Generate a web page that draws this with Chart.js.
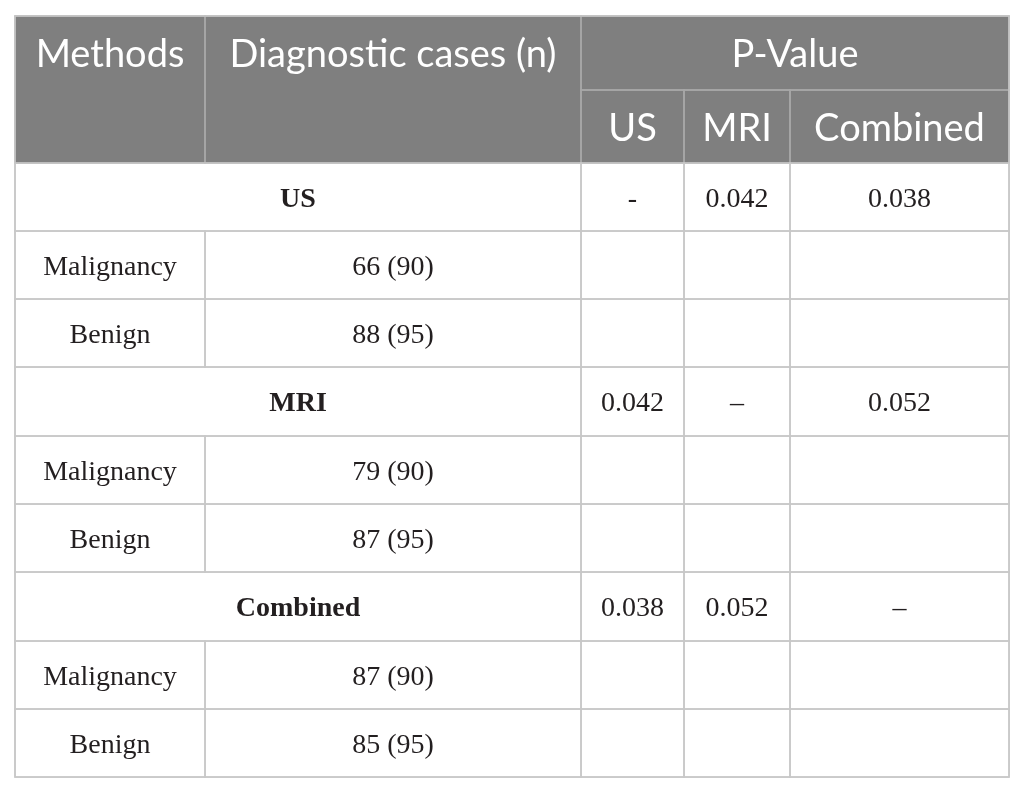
<!DOCTYPE html>
<html lang="en">
<head>
<meta charset="UTF-8" />
<meta name="viewport" content="width=device-width, initial-scale=1.0" />
<title>Diagnostic cases and P-values by method</title>
<script src="https://cdn.jsdelivr.net/npm/chart.js"></script>
<style>
  html, body { margin: 0; padding: 0; background: #ffffff; }
  .chart-container { position: relative; width: 1025px; height: 793px; }
</style>
</head>
<body>
<div class="chart-container"><canvas id="tableChart"></canvas></div>
<script>
// table content
const headerTop = ["Methods", "Diagnostic cases (n)", "P-Value"];
const headerSub = ["US", "MRI", "Combined"];
const groups = ["US", "MRI", "Combined"];
const groupPValues = [
  ["-", "0.042", "0.038"],
  ["0.042", "\u2013", "0.052"],
  ["0.038", "0.052", "\u2013"],
];
const outcomes = ["Malignancy", "Benign"];
const diagnosed = [
  [66, 88],
  [79, 87],
  [87, 85],
];
const totals = [90, 95];

// layout, in scale units
const colWidths = [190, 376, 103, 106, 219];
const rowHeights = [74, 73, 68, 68, 68, 69, 68, 68, 69, 68, 68];

function edges(sizes) {
  let s = 0;
  return [0, ...sizes.map((v) => (s += v))];
}
const colEdges = edges(colWidths);
const rowEdges = edges(rowHeights);

const headSize = 38;
const bodySize = 28;
const headFont = headSize + 'px Lato, "Open Sans", sans-serif';
const bodyFont = bodySize + 'px "Liberation Serif", "DejaVu Serif", serif';
const bodyBold = "bold " + bodyFont;

// build the cell list
const cells = [];
cells.push({ c0: 0, c1: 1, r0: 0, r1: 2, text: headerTop[0], head: true, top: true });
cells.push({ c0: 1, c1: 2, r0: 0, r1: 2, text: headerTop[1], head: true, top: true });
cells.push({ c0: 2, c1: 5, r0: 0, r1: 1, text: headerTop[2], head: true });
headerSub.forEach((t, i) => cells.push({ c0: 2 + i, c1: 3 + i, r0: 1, r1: 2, text: t, head: true }));

groups.forEach((g, gi) => {
  const r = 2 + gi * 3;
  cells.push({ c0: 0, c1: 2, r0: r, r1: r + 1, text: g, bold: true });
  groupPValues[gi].forEach((p, pi) =>
    cells.push({ c0: 2 + pi, c1: 3 + pi, r0: r, r1: r + 1, text: p })
  );
  outcomes.forEach((o, oi) => {
    const rr = r + 1 + oi;
    cells.push({ c0: 0, c1: 1, r0: rr, r1: rr + 1, text: o });
    cells.push({ c0: 1, c1: 2, r0: rr, r1: rr + 1, text: diagnosed[gi][oi] + " (" + totals[oi] + ")" });
    for (let k = 2; k < 5; k++) cells.push({ c0: k, c1: k + 1, r0: rr, r1: rr + 1, text: "" });
  });
});

const tablePlugin = {
  id: "tableCells",
  afterDraw(chart) {
    const { ctx, scales } = chart;
    const x = (c) => scales.x.getPixelForValue(colEdges[c]);
    const y = (r) => scales.y.getPixelForValue(rowEdges[r]);
    ctx.save();
    // header fill
    ctx.fillStyle = "#7f7f7f";
    ctx.fillRect(x(0), y(0), x(5) - x(0), y(2) - y(0));
    // header cells first, body cells on top
    const ordered = [...cells.filter((c) => c.head), ...cells.filter((c) => !c.head)];
    ordered.forEach((c) => {
      const x0 = x(c.c0), x1 = x(c.c1), y0 = y(c.r0), y1 = y(c.r1);
      ctx.lineWidth = 1.5;
      ctx.strokeStyle = c.head ? "#a8a8a8" : "#c8c8c8";
      ctx.strokeRect(x0, y0, x1 - x0, y1 - y0);
      if (!c.text) return;
      ctx.fillStyle = c.head ? "#ffffff" : "#231f20";
      ctx.font = c.head ? headFont : c.bold ? bodyBold : bodyFont;
      ctx.textAlign = "center";
      ctx.textBaseline = "alphabetic";
      const cy = c.top ? (y(0) + y(1)) / 2 : (y0 + y1) / 2;
      const base = c.head ? cy + headSize * 0.37 : cy + bodySize * 0.35;
      ctx.fillText(c.text, (x0 + x1) / 2, base);
    });
    // outer border
    ctx.strokeStyle = "#c8c8c8";
    ctx.strokeRect(x(0), y(0), x(5) - x(0), y(rowHeights.length) - y(0));
    ctx.restore();
  },
};

const ctx = document.getElementById("tableChart").getContext("2d");
new Chart(ctx, {
  type: "scatter",
  data: { datasets: [{ data: [] }] },
  options: {
    responsive: true,
    maintainAspectRatio: false,
    animation: false,
    layout: { padding: { left: 15, right: 16, top: 16, bottom: 16 } },
    scales: {
      x: { type: "linear", min: 0, max: colEdges[colEdges.length - 1], display: false },
      y: { type: "linear", min: 0, max: rowEdges[rowEdges.length - 1], reverse: true, display: false },
    },
    plugins: { legend: { display: false }, tooltip: { enabled: false } },
  },
  plugins: [tablePlugin],
});
</script>
</body>
</html>
